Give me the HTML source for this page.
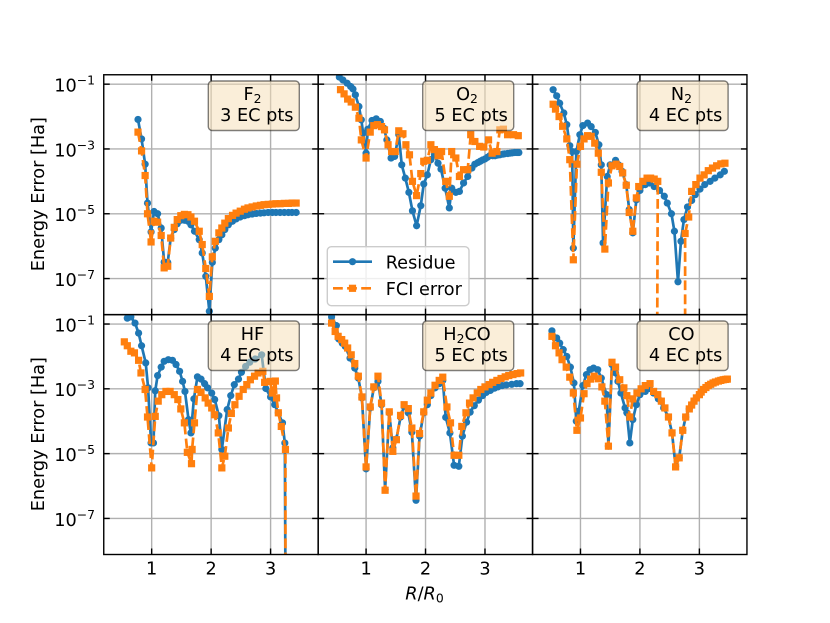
<!DOCTYPE html>
<html lang="en">
<head>
<meta charset="utf-8">
<title>Energy error versus bond stretch</title>
<style>
html,body{margin:0;padding:0;background:#fff;overflow:hidden;}
svg{display:block;}
text{font-family:"DejaVu Sans",sans-serif;fill:#000;}
</style>
</head>
<body>
<svg id="chart" xmlns="http://www.w3.org/2000/svg" width="830" height="623" viewBox="0 0 830 623">
  <rect x="0" y="0" width="830" height="623" fill="#fff"/>
  <g id="plot-layer"></g>

  <g font-size="17.7">
    <g>
      <rect x="208.3" y="81" width="91" height="49.5" rx="4" fill="#f5deb3" fill-opacity="0.5" stroke="#000" stroke-opacity="0.5" stroke-width="1.4"/>
      <text x="252.5" y="100" text-anchor="middle">F<tspan font-size="12.4" dy="3">2</tspan></text>
      <text x="256.8" y="121" text-anchor="middle">3 EC pts</text>
    </g>
    <g>
      <rect x="422.7" y="81" width="91" height="49.5" rx="4" fill="#f5deb3" fill-opacity="0.5" stroke="#000" stroke-opacity="0.5" stroke-width="1.4"/>
      <text x="467" y="100" text-anchor="middle">O<tspan font-size="12.4" dy="3">2</tspan></text>
      <text x="471.2" y="121" text-anchor="middle">5 EC pts</text>
    </g>
    <g>
      <rect x="637.1" y="81" width="91" height="49.5" rx="4" fill="#f5deb3" fill-opacity="0.5" stroke="#000" stroke-opacity="0.5" stroke-width="1.4"/>
      <text x="681.4" y="100" text-anchor="middle">N<tspan font-size="12.4" dy="3">2</tspan></text>
      <text x="685.6" y="121" text-anchor="middle">4 EC pts</text>
    </g>
    <g>
      <rect x="208.3" y="321" width="91" height="49.5" rx="4" fill="#f5deb3" fill-opacity="0.5" stroke="#000" stroke-opacity="0.5" stroke-width="1.4"/>
      <text x="252.5" y="340" text-anchor="middle">HF</text>
      <text x="256.8" y="361" text-anchor="middle">4 EC pts</text>
    </g>
    <g>
      <rect x="422.7" y="321" width="91" height="49.5" rx="4" fill="#f5deb3" fill-opacity="0.5" stroke="#000" stroke-opacity="0.5" stroke-width="1.4"/>
      <text x="467" y="340" text-anchor="middle">H<tspan font-size="12.4" dy="3">2</tspan><tspan dy="-3">CO</tspan></text>
      <text x="471.2" y="361" text-anchor="middle">5 EC pts</text>
    </g>
    <g>
      <rect x="637.1" y="321" width="91" height="49.5" rx="4" fill="#f5deb3" fill-opacity="0.5" stroke="#000" stroke-opacity="0.5" stroke-width="1.4"/>
      <text x="681.4" y="340" text-anchor="middle">CO</text>
      <text x="685.6" y="361" text-anchor="middle">4 EC pts</text>
    </g>
  </g>

  <g font-size="17.7">
    <rect x="327.3" y="246.7" width="141.7" height="59" rx="4" fill="#fff" fill-opacity="0.8" stroke="#ccc" stroke-width="1.4"/>
    <g>
      <line x1="333" y1="261.7" x2="372" y2="261.7" stroke="#1f77b4" stroke-width="2.7"/>
      <circle cx="352.5" cy="261.7" r="3.6" fill="#1f77b4"/>
      <text x="385.7" y="268.3">Residue</text>
    </g>
    <g>
      <line x1="333" y1="288.3" x2="372" y2="288.3" stroke="#ff7f0e" stroke-width="2.7" stroke-dasharray="9.8 4.3"/>
      <rect x="348.9" y="284.7" width="7.2" height="7.2" fill="#ff7f0e"/>
      <text x="385.7" y="295">FCI error</text>
    </g>
  </g>

  <text font-size="17.7" text-anchor="middle" transform="translate(44,194.2) rotate(-90)">Energy Error [Ha]</text>
  <text font-size="17.7" text-anchor="middle" transform="translate(44,434.2) rotate(-90)">Energy Error [Ha]</text>
  <text font-size="17.7" text-anchor="middle" x="424.5" y="599.3"><tspan font-style="italic">R</tspan>/<tspan font-style="italic">R</tspan><tspan font-size="12.4" dy="3">0</tspan></text>
</svg>

<script>
// Shared tick labels
const xTickValues = [1, 2, 3];
const yTickExponents = [-1, -3, -5, -7];

// All error values below are log10(error / Ha).
const f2R = [0.77,0.83,0.89,0.93,0.99,1.04,1.10,1.16,1.21,1.27,1.32,1.38,1.43,1.49,1.55,1.61,1.66,1.72,1.80,1.85,1.91,1.97,2.02,2.07,2.13,2.18,2.23,2.29,2.36,2.42,2.49,2.56,2.62,2.69,2.76,2.83,2.89,2.96,3.03,3.09,3.16,3.23,3.30,3.36,3.43];
const f2Residue = [-2.09,-2.69,-3.47,-4.67,-5.56,-4.93,-5.00,-5.44,-6.49,-6.50,-5.75,-5.49,-5.31,-5.20,-5.20,-5.23,-5.34,-5.54,-5.80,-6.21,-6.93,-8.01,-6.50,-6.06,-5.80,-5.65,-5.49,-5.34,-5.23,-5.16,-5.10,-5.06,-5.03,-5.01,-4.99,-4.98,-4.97,-4.96,-4.96,-4.96,-4.96,-4.96,-4.96,-4.96,-4.96];
const f2Fci = [-2.48,-3.06,-3.82,-5.00,-5.87,-5.23,-5.26,-5.67,-6.67,-6.62,-5.75,-5.42,-5.18,-5.06,-5.02,-5.03,-5.10,-5.23,-5.54,-5.95,-6.69,-7.55,-6.33,-5.85,-5.59,-5.44,-5.29,-5.15,-5.05,-4.98,-4.92,-4.86,-4.82,-4.79,-4.76,-4.74,-4.72,-4.71,-4.70,-4.69,-4.69,-4.68,-4.68,-4.67,-4.67];

const o2ResidueR = [0.55,0.61,0.68,0.74,0.78,0.82,0.88,0.92,0.95,1.00,1.03,1.10,1.17,1.24,1.30,1.35,1.42,1.48,1.55,1.60,1.66,1.72,1.78,1.85,1.92,1.97,2.03,2.09,2.15,2.21,2.26,2.33,2.40,2.44,2.51,2.57,2.64,2.71,2.78,2.83,2.88,2.92,2.96,3.00,3.04,3.08,3.13,3.17,3.21,3.25,3.30,3.33,3.38,3.42,3.46,3.50,3.54,3.57];
const o2Residue = [-0.78,-0.87,-0.97,-1.07,-1.15,-1.33,-1.69,-2.10,-2.51,-3.13,-2.39,-2.12,-2.07,-2.15,-2.36,-2.72,-3.28,-3.23,-2.56,-3.49,-3.90,-4.34,-4.91,-5.37,-4.75,-4.08,-3.80,-3.33,-3.18,-3.44,-3.62,-4.21,-4.82,-4.21,-4.34,-4.31,-4.05,-3.85,-3.59,-3.47,-3.42,-3.38,-3.34,-3.31,-3.26,-3.21,-3.21,-3.21,-3.19,-3.18,-3.16,-3.15,-3.14,-3.13,-3.12,-3.11,-3.11,-3.11];
const o2FciR = [0.57,0.63,0.69,0.75,0.82,0.88,0.92,1.00,1.07,1.13,1.19,1.26,1.31,1.37,1.43,1.49,1.55,1.62,1.67,1.73,1.78,1.85,1.92,1.97,2.03,2.09,2.15,2.21,2.27,2.34,2.40,2.44,2.51,2.57,2.64,2.71,2.76,2.83,2.91,2.98,3.06,3.12,3.20,3.25,3.31,3.38,3.48,3.56];
const o2Fci = [-1.17,-1.30,-1.46,-1.55,-1.71,-2.05,-2.72,-3.28,-2.48,-2.28,-2.25,-2.31,-2.41,-2.87,-3.08,-3.08,-2.44,-2.53,-2.87,-3.18,-4.00,-4.44,-3.76,-3.38,-3.35,-2.87,-3.02,-3.21,-3.08,-4.00,-4.46,-3.08,-3.28,-3.85,-3.64,-3.64,-2.56,-2.77,-2.92,-2.94,-2.72,-3.13,-3.08,-2.41,-2.39,-2.56,-2.56,-2.59];

const n2ResidueR = [0.54,0.60,0.65,0.72,0.77,0.82,0.86,0.88,0.93,0.99,1.04,1.12,1.18,1.25,1.31,1.35,1.38,1.45,1.50,1.59,1.64,1.70,1.77,1.82,1.88,1.94,2.00,2.09,2.16,2.24,2.33,2.41,2.46,2.53,2.58,2.64,2.69,2.74,2.80,2.87,2.93,3.01,3.09,3.18,3.26,3.35,3.42];
const n2Residue = [-1.17,-1.36,-1.59,-1.89,-2.25,-2.90,-3.08,-6.06,-3.08,-2.56,-2.28,-2.20,-2.31,-2.49,-2.87,-3.49,-5.90,-3.85,-3.49,-3.35,-3.49,-3.69,-4.10,-4.87,-5.59,-4.57,-4.28,-4.10,-4.05,-4.16,-4.28,-4.46,-4.67,-5.00,-5.54,-7.10,-5.85,-5.18,-4.79,-4.59,-4.41,-4.24,-4.10,-4.00,-3.90,-3.80,-3.69];
const n2FciR = [0.54,0.58,0.64,0.70,0.77,0.82,0.88,0.94,1.00,1.06,1.12,1.18,1.24,1.30,1.35,1.41,1.47,1.53,1.60,1.66,1.71,1.77,1.82,1.88,1.94,1.98,2.05,2.12,2.18,2.24,2.30,2.29,2.76,2.76,2.82,2.87,2.94,3.01,3.08,3.15,3.22,3.29,3.36,3.43];
const n2Fci = [-1.62,-1.77,-2.00,-2.30,-2.69,-3.33,-6.42,-3.47,-2.92,-2.69,-2.59,-2.61,-2.82,-3.13,-3.72,-6.09,-4.05,-3.52,-3.47,-3.54,-3.74,-4.12,-4.96,-5.54,-4.51,-4.16,-4.00,-3.90,-3.90,-3.93,-4.00,-9,-9,-5.61,-5.10,-4.31,-4.10,-3.90,-3.80,-3.67,-3.59,-3.52,-3.46,-3.44];

const hfResidueR = [0.59,0.65,0.72,0.78,0.83,0.90,0.94,0.99,1.03,1.06,1.10,1.16,1.21,1.28,1.35,1.41,1.47,1.52,1.56,1.62,1.66,1.71,1.77,1.83,1.89,1.94,2.01,2.06,2.13,2.18,2.27,2.33,2.39,2.46,2.51,2.58,2.65,2.74,2.85,2.92,3.00,3.07,3.13,3.20,3.24,3.25];
const hfResidue = [-0.82,-0.78,-0.97,-1.28,-1.67,-2.20,-2.97,-4.67,-4.67,-3.06,-2.59,-2.33,-2.15,-2.10,-2.12,-2.25,-2.46,-2.77,-3.08,-3.95,-4.36,-3.31,-2.63,-2.70,-2.84,-2.97,-3.13,-3.33,-3.83,-4.87,-3.64,-3.21,-2.87,-2.70,-2.49,-2.31,-2.18,-2.08,-1.95,-2.99,-3.25,-3.49,-3.74,-4.05,-4.67,-9];
const hfFciR = [0.54,0.59,0.65,0.71,0.78,0.82,0.89,0.93,1.00,1.06,1.11,1.17,1.24,1.31,1.38,1.44,1.49,1.55,1.60,1.67,1.68,1.72,1.77,1.83,1.90,1.95,2.01,2.06,2.12,2.18,2.23,2.29,2.34,2.40,2.47,2.54,2.60,2.66,2.73,2.79,2.87,2.90,2.99,3.03,3.08,3.10,3.13,3.18,3.25,3.25];
const hfFci = [-1.55,-1.67,-1.84,-1.89,-2.12,-2.51,-3.02,-3.87,-5.44,-3.85,-3.38,-3.18,-3.08,-3.08,-3.18,-3.33,-3.62,-4.05,-4.96,-5.31,-4.87,-4.05,-3.02,-3.11,-3.28,-3.44,-3.59,-3.80,-4.36,-5.44,-5.08,-4.21,-3.76,-3.49,-3.23,-3.02,-2.87,-2.72,-2.61,-2.51,-2.46,-2.80,-2.77,-3.13,-2.76,-3.28,-3.74,-4.16,-4.87,-9];

const h2coResidueR = [0.42,0.50,0.54,0.60,0.65,0.73,0.81,0.87,0.93,1.00,1.07,1.13,1.20,1.26,1.32,1.39,1.45,1.51,1.58,1.64,1.71,1.77,1.84,1.90,1.97,2.03,2.09,2.16,2.23,2.29,2.34,2.41,2.48,2.56,2.62,2.69,2.75,2.82,2.89,2.96,3.02,3.09,3.16,3.22,3.29,3.36,3.45,3.53,3.59];
const h2coResidue = [-0.78,-1.05,-1.46,-1.59,-1.69,-2.05,-2.36,-2.67,-3.28,-5.47,-3.59,-2.97,-2.77,-3.49,-6.11,-3.74,-4.82,-4.55,-3.87,-3.54,-3.74,-4.34,-6.44,-4.46,-3.74,-3.49,-3.21,-2.97,-2.84,-2.74,-3.88,-4.36,-5.36,-5.39,-4.46,-4.03,-3.72,-3.52,-3.35,-3.21,-3.11,-3.05,-2.98,-2.94,-2.90,-2.88,-2.86,-2.84,-2.84];
const h2coFciR = [0.42,0.48,0.53,0.59,0.64,0.69,0.75,0.81,0.87,0.93,1.00,1.07,1.13,1.20,1.26,1.32,1.39,1.45,1.51,1.58,1.64,1.71,1.77,1.84,1.90,1.97,2.03,2.09,2.16,2.23,2.29,2.36,2.42,2.48,2.56,2.61,2.68,2.74,2.80,2.87,2.93,3.00,3.07,3.13,3.20,3.27,3.34,3.40,3.47,3.54,3.60];
const h2coFci = [-0.97,-1.23,-1.38,-1.48,-1.59,-1.74,-1.95,-2.22,-2.61,-3.25,-5.41,-3.56,-2.94,-2.61,-3.44,-6.13,-3.71,-4.93,-4.57,-3.82,-3.49,-3.61,-4.21,-6.31,-4.38,-3.71,-3.35,-3.13,-2.89,-2.74,-2.64,-3.56,-4.05,-5.05,-5.05,-4.16,-3.74,-3.44,-3.28,-3.13,-3.02,-2.94,-2.87,-2.80,-2.74,-2.68,-2.63,-2.59,-2.56,-2.53,-2.51];

const coResidueR = [0.52,0.60,0.65,0.71,0.77,0.83,0.89,0.93,0.97,1.04,1.10,1.16,1.22,1.29,1.35,1.44,1.47,1.53,1.59,1.63,1.68,1.75,1.78,1.83,1.88,1.94,2.00,2.09,2.16,2.23,2.31,2.40,2.48,2.54,2.60,2.66,2.72,2.77,2.83,2.87,2.91,2.95,3.00,3.03,3.07,3.11,3.15,3.19,3.23,3.27,3.32,3.36,3.40,3.44,3.47];
const coResidue = [-1.21,-1.43,-1.59,-1.79,-2.00,-2.33,-2.82,-4.00,-3.69,-2.90,-2.56,-2.41,-2.36,-2.41,-2.67,-3.18,-4.77,-2.25,-2.51,-2.77,-3.13,-3.59,-3.74,-4.67,-3.95,-3.49,-3.18,-3.08,-2.99,-3.13,-3.31,-3.59,-3.87,-4.36,-5.39,-5.13,-4.28,-3.87,-3.62,-3.50,-3.38,-3.28,-3.18,-3.10,-3.02,-2.96,-2.90,-2.86,-2.82,-2.79,-2.76,-2.74,-2.72,-2.71,-2.70];
const coFciR = [0.52,0.58,0.64,0.69,0.76,0.82,0.88,0.94,1.00,1.06,1.11,1.17,1.23,1.30,1.36,1.41,1.47,1.53,1.59,1.66,1.73,1.78,1.83,1.88,1.95,2.02,2.09,2.17,2.23,2.30,2.36,2.42,2.48,2.54,2.60,2.66,2.72,2.77,2.83,2.87,2.91,2.95,3.00,3.03,3.07,3.11,3.15,3.19,3.23,3.27,3.32,3.36,3.40,3.44,3.47];
const coFci = [-1.38,-1.67,-1.89,-2.10,-2.33,-2.64,-3.13,-4.28,-3.90,-3.15,-2.84,-2.70,-2.61,-2.69,-2.94,-3.38,-4.77,-2.18,-2.33,-2.72,-2.97,-3.21,-3.87,-3.31,-3.13,-3.00,-2.90,-2.84,-3.08,-3.18,-3.38,-3.59,-3.87,-4.36,-5.41,-5.13,-4.28,-3.87,-3.62,-3.50,-3.38,-3.28,-3.18,-3.10,-3.02,-2.96,-2.90,-2.86,-2.82,-2.79,-2.76,-2.74,-2.72,-2.71,-2.70];

const panels = [
  {id:'f2',   col:0, row:0, resR:f2R,         res:f2Residue,   fciR:f2R,      fci:f2Fci},
  {id:'o2',   col:1, row:0, resR:o2ResidueR,  res:o2Residue,   fciR:o2FciR,   fci:o2Fci},
  {id:'n2',   col:2, row:0, resR:n2ResidueR,  res:n2Residue,   fciR:n2FciR,   fci:n2Fci},
  {id:'hf',   col:0, row:1, resR:hfResidueR,  res:hfResidue,   fciR:hfFciR,   fci:hfFci},
  {id:'h2co', col:1, row:1, resR:h2coResidueR,res:h2coResidue, fciR:h2coFciR, fci:h2coFci},
  {id:'co',   col:2, row:1, resR:coResidueR,  res:coResidue,   fciR:coFciR,   fci:coFci}
];

const NS = 'http://www.w3.org/2000/svg';
const plotLeft = 103.75, plotTop = 74.76, panelW = 214.4, panelH = 239.87;
const rMin = 0.194, rMax = 3.80, logTop = -0.71, logBottom = -8.113;
const BLUE = '#1f77b4', ORANGE = '#ff7f0e';

function make(tag, attrs, parent) {
  const node = document.createElementNS(NS, tag);
  for (const k in attrs) node.setAttribute(k, attrs[k]);
  parent.appendChild(node);
  return node;
}
function xScale(col, r) { return plotLeft + col * panelW + (r - rMin) / (rMax - rMin) * panelW; }
function yScale(row, logv) { return plotTop + row * panelH + (logTop - logv) / (logTop - logBottom) * panelH; }

const layer = document.getElementById('plot-layer');
const defs = make('defs', {}, layer);

function drawSeries(g, p, rs, vals, color, isFci) {
  const pts = rs.map((r, i) => xScale(p.col, r).toFixed(2) + ',' + yScale(p.row, vals[i]).toFixed(2));
  const attrs = {points: pts.join(' '), fill: 'none', stroke: color, 'stroke-width': 2.7, 'stroke-linejoin': 'round'};
  if (isFci) attrs['stroke-dasharray'] = '9.8 4.3';
  const line = make('polyline', attrs, g);
  
  
  rs.forEach((r, i) => {
    const cx = xScale(p.col, r), cy = yScale(p.row, vals[i]);
    const m = isFci
      ? make('rect', {x: cx - 3.6, y: cy - 3.6, width: 7.2, height: 7.2, fill: color}, g)
      : make('circle', {cx: cx, cy: cy, r: 3.6, fill: color}, g);
    
    
  });
}

panels.forEach(p => {
  const left = plotLeft + p.col * panelW, top = plotTop + p.row * panelH;
  const right = left + panelW, bottom = top + panelH;
  const g = make('g', {}, layer);
  
  

  const clip = make('clipPath', {id: 'clip-' + p.id}, defs);
  make('rect', {x: left, y: top, width: panelW, height: panelH}, clip);

  const inner = make('g', {'clip-path': 'url(#clip-' + p.id + ')'}, g);
  
  

  xTickValues.forEach(t => {
    const x = xScale(p.col, t);
    const gl = make('line', {x1: x, x2: x, y1: top, y2: bottom, stroke: '#b0b0b0', 'stroke-width': 1.4}, inner);
    
    
  });
  yTickExponents.forEach(e => {
    const y = yScale(p.row, e);
    const gl = make('line', {x1: left, x2: right, y1: y, y2: y, stroke: '#b0b0b0', 'stroke-width': 1.4}, inner);
    
    
  });

  drawSeries(inner, p, p.resR, p.res, BLUE, false);
  drawSeries(inner, p, p.fciR, p.fci, ORANGE, true);

  xTickValues.forEach(t => {
    const x = xScale(p.col, t);
    [[top, top + 6], [bottom - 6, bottom]].forEach(pair => {
      const tk = make('line', {x1: x, x2: x, y1: pair[0], y2: pair[1], stroke: '#000', 'stroke-width': 1.4}, g);
      
      
    });
    if (p.row === 1) {
      const lb = make('text', {x: x, y: 574.3, 'text-anchor': 'middle', 'font-size': 17.7}, g);
      lb.textContent = String(t);
      
      
    }
  });
  yTickExponents.forEach(e => {
    const y = yScale(p.row, e);
    [[left, left + 6], [right - 6, right]].forEach(pair => {
      const tk = make('line', {x1: pair[0], x2: pair[1], y1: y, y2: y, stroke: '#000', 'stroke-width': 1.4}, g);
      
      
    });
    if (p.col === 0) {
      const lb = make('text', {x: 95, y: y + 7.4, 'text-anchor': 'end', 'font-size': 17.7}, g);
      
      
      make('tspan', {}, lb).textContent = '10';
      make('tspan', {'font-size': 12.4, dy: -7}, lb).textContent = '\u2212' + Math.abs(e);
    }
  });

  const frame = make('rect', {x: left, y: top, width: panelW, height: panelH, fill: 'none', stroke: '#000', 'stroke-width': 1.4}, g);
  
  
});
</script>
</body>
</html>
